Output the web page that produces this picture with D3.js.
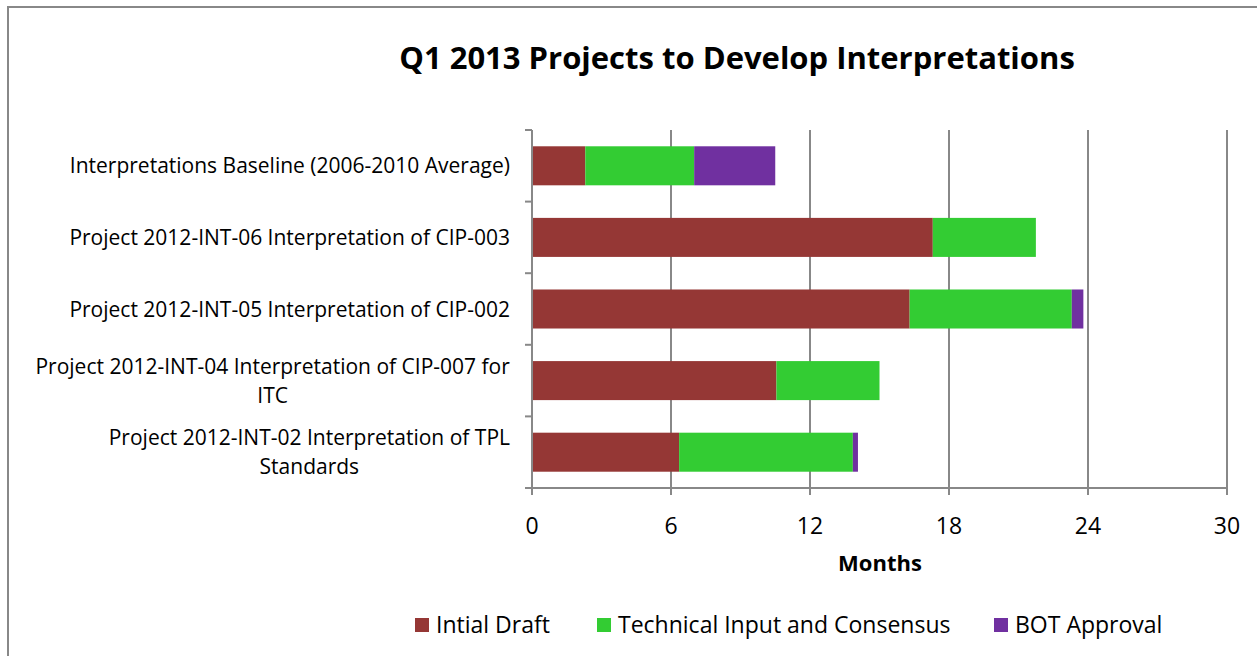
<!DOCTYPE html>
<html>
<head>
<meta charset="utf-8">
<script src="https://cdn.jsdelivr.net/npm/d3@7"></script>
<style>
  body { margin: 0; background: #fff; }
  svg { display: block; font-family: "Open Sans", sans-serif; }
</style>
</head>
<body>
<svg id="chart" width="1257" height="656"></svg>
<script>
// categories, top to bottom
const categories = [
  ["Interpretations Baseline (2006-2010 Average)"],
  ["Project 2012-INT-06 Interpretation of CIP-003"],
  ["Project 2012-INT-05 Interpretation of CIP-002"],
  ["Project 2012-INT-04 Interpretation of CIP-007 for", "ITC"],
  ["Project 2012-INT-02 Interpretation of TPL", "Standards"]
]
const seriesNames = ["Intial Draft", "Technical Input and Consensus", "BOT Approval"]
const initialDraft = [2.3, 17.3, 16.3, 10.55, 6.35]
const technicalInput = [4.7, 4.45, 7.0, 4.45, 7.5]
const botApproval = [3.5, 0, 0.5, 0, 0.22]
const xTicks = [0, 6, 12, 18, 24, 30]
const colors = ["#953735", "#33cc33", "#7030a0"]

const svg = d3.select("#chart")
const plot = {left: 532, right: 1227, top: 130, bottom: 488}

// outer frame (only left & top visible in the original)
svg.append("rect")
  .attr("x", 8).attr("y", 7).attr("width", 1300).attr("height", 700)
  .attr("fill", "none").attr("stroke", "#888").attr("stroke-width", 2)

svg.append("text")
  .attr("x", 737).attr("y", 69)
  .attr("text-anchor", "middle")
  .style("font-size", "31px").style("font-weight", "bold")
  .text("Q1 2013 Projects to Develop Interpretations")

let x = d3.scaleLinear().domain([0, 30]).range([plot.left, plot.right])
let y = d3.scaleBand().domain(d3.range(categories.length))
  .range([plot.top, plot.bottom]).paddingInner(0.455).paddingOuter(0.2275)

// gridlines
svg.append("g").selectAll("line").data(xTicks.slice(1)).join("line")
  .attr("x1", d => x(d)).attr("x2", d => x(d))
  .attr("y1", plot.top).attr("y2", plot.bottom)
  .attr("stroke", "#888").attr("stroke-width", 2)

// stacked bars
let rows = categories.map((c, i) => ({i: i, a: initialDraft[i], b: technicalInput[i], c: botApproval[i]}))
let stack = d3.stack().keys(["a", "b", "c"])(rows)
svg.append("g").selectAll("g").data(stack).join("g")
  .attr("fill", (d, k) => colors[k])
  .selectAll("rect").data(d => d.filter(s => s[1] > s[0])).join("rect")
  .attr("x", d => x(d[0]))
  .attr("width", d => x(d[1]) - x(d[0]))
  .attr("y", d => y(d.data.i))
  .attr("height", y.bandwidth())

// axes
let step = (plot.bottom - plot.top) / categories.length
let axisg = svg.append("g").attr("stroke", "#888").attr("stroke-width", 2)
axisg.append("line").attr("x1", plot.left).attr("x2", plot.left)
  .attr("y1", plot.top).attr("y2", plot.bottom + 7)
axisg.append("line").attr("x1", plot.left - 7).attr("x2", plot.right)
  .attr("y1", plot.bottom).attr("y2", plot.bottom)
axisg.selectAll(".yt").data(d3.range(categories.length + 1)).join("line")
  .attr("x1", plot.left - 7).attr("x2", plot.left)
  .attr("y1", d => plot.top + d * step).attr("y2", d => plot.top + d * step)
axisg.selectAll(".xt").data(xTicks).join("line")
  .attr("x1", d => x(d)).attr("x2", d => x(d))
  .attr("y1", plot.bottom).attr("y2", plot.bottom + 7)

svg.append("g").selectAll("text").data(xTicks).join("text")
  .attr("x", d => x(d)).attr("y", 534)
  .attr("text-anchor", "middle")
  .style("font-size", "23px")
  .text(d => d)

svg.append("text")
  .attr("x", 880).attr("y", 571)
  .attr("text-anchor", "middle")
  .style("font-size", "22px").style("font-weight", "bold")
  .text("Months")

// category labels, lines centred in a right-aligned block
categories.forEach((lines, i) => {
  let cy = y(i) + y.bandwidth() / 2
  let g = svg.append("g")
  let t = g.append("text").style("font-size", "21px").attr("text-anchor", "middle")
  lines.forEach((ln, j) => {
    t.append("tspan").attr("x", 0)
      .attr("y", cy + 7.5 + (j - (lines.length - 1) / 2) * 29)
      .text(ln)
  })
  let w = t.node().getBBox().width
  g.attr("transform", `translate(${510 - w / 2},0)`)
})

// legend
let legendX = [415, 597, 994]
let leg = svg.append("g").selectAll("g").data(seriesNames).join("g")
  .attr("transform", (d, k) => `translate(${legendX[k]},618)`)
leg.append("rect").attr("width", 14).attr("height", 14).attr("fill", (d, k) => colors[k])
leg.append("text").attr("x", 21).attr("y", 15)
  .style("font-size", "23px")
  .text(d => d)
</script>
</body>
</html>
